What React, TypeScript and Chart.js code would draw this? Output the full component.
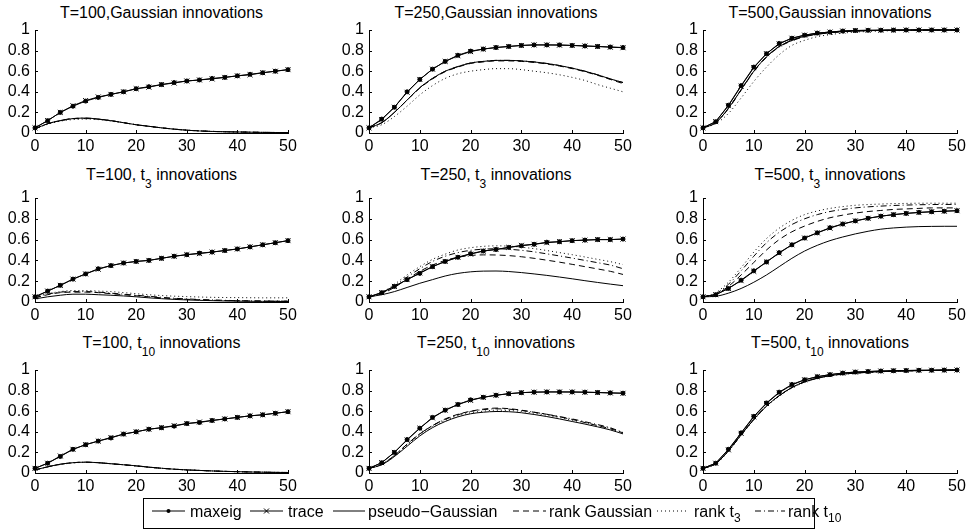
import React, { useEffect, useRef } from "react";
import { Chart, registerables } from "chart.js";
Chart.register(...registerables);

const FONT = "'Liberation Sans', Arial, Helvetica, sans-serif";

// horizon grid (x values)
const horizons = [0, 2.5, 5, 7.5, 10, 12.5, 15, 17.5, 20, 22.5, 25, 27.5, 30, 32.5, 35, 37.5, 40, 42.5, 45, 47.5, 50];
const xTicks = [0, 10, 20, 30, 40, 50];
const xTickLabels = ["0", "10", "20", "30", "40", "50"];
const yTicks = [0, 0.2, 0.4, 0.6, 0.8, 1];
const yTickLabels = ["0", "0.2", "0.4", "0.6", "0.8", "1"];
const seriesNames = ["maxeig", "trace", "pseudo\u2212Gaussian", "rank Gaussian", "rank t3", "rank t10"];

// T=100, Gaussian
const A_maxeig = [0.05, 0.12, 0.2, 0.26, 0.31, 0.345, 0.375, 0.4, 0.43, 0.45, 0.47, 0.49, 0.505, 0.515, 0.53, 0.54, 0.555, 0.57, 0.585, 0.6, 0.615];
const A_trace = [0.05, 0.12, 0.2, 0.265, 0.315, 0.35, 0.375, 0.4, 0.43, 0.445, 0.47, 0.485, 0.505, 0.515, 0.525, 0.54, 0.555, 0.565, 0.585, 0.6, 0.615];
const A_pseudo = [0.04, 0.09, 0.12, 0.14, 0.145, 0.135, 0.12, 0.1, 0.08, 0.065, 0.05, 0.037, 0.027, 0.02, 0.015, 0.012, 0.01, 0.008, 0.006, 0.005, 0.004];
const A_rankG = [0.04, 0.09, 0.12, 0.14, 0.14, 0.135, 0.12, 0.1, 0.08, 0.065, 0.05, 0.038, 0.028, 0.021, 0.016, 0.012, 0.01, 0.008, 0.006, 0.005, 0.004];
const A_rankT3 = [0.04, 0.085, 0.115, 0.13, 0.135, 0.13, 0.115, 0.1, 0.08, 0.065, 0.05, 0.038, 0.028, 0.021, 0.016, 0.012, 0.01, 0.008, 0.006, 0.005, 0.004];
const A_rankT10 = [0.04, 0.09, 0.12, 0.14, 0.145, 0.135, 0.12, 0.1, 0.08, 0.065, 0.05, 0.037, 0.027, 0.02, 0.015, 0.012, 0.01, 0.008, 0.006, 0.005, 0.004];

// T=250, Gaussian
const B_maxeig = [0.05, 0.135, 0.25, 0.4, 0.52, 0.62, 0.695, 0.755, 0.795, 0.815, 0.83, 0.84, 0.85, 0.855, 0.855, 0.855, 0.85, 0.845, 0.84, 0.835, 0.83];
const B_trace = [0.05, 0.13, 0.25, 0.395, 0.52, 0.62, 0.695, 0.75, 0.79, 0.815, 0.83, 0.84, 0.85, 0.855, 0.855, 0.853, 0.85, 0.845, 0.84, 0.833, 0.828];
const B_pseudo = [0.05, 0.1, 0.2, 0.32, 0.44, 0.53, 0.6, 0.645, 0.68, 0.695, 0.705, 0.705, 0.7, 0.69, 0.675, 0.655, 0.63, 0.6, 0.565, 0.525, 0.49];
const B_rankG = [0.05, 0.1, 0.2, 0.32, 0.435, 0.525, 0.595, 0.64, 0.675, 0.69, 0.7, 0.7, 0.695, 0.685, 0.67, 0.65, 0.625, 0.595, 0.56, 0.52, 0.48];
const B_rankT3 = [0.05, 0.08, 0.16, 0.26, 0.37, 0.46, 0.53, 0.575, 0.6, 0.615, 0.625, 0.625, 0.615, 0.6, 0.585, 0.565, 0.54, 0.51, 0.47, 0.435, 0.4];
const B_rankT10 = [0.05, 0.1, 0.2, 0.32, 0.44, 0.53, 0.6, 0.645, 0.68, 0.695, 0.705, 0.705, 0.7, 0.69, 0.675, 0.655, 0.63, 0.6, 0.565, 0.525, 0.49];

// T=500, Gaussian
const C_maxeig = [0.05, 0.11, 0.27, 0.46, 0.64, 0.77, 0.87, 0.92, 0.95, 0.97, 0.98, 0.99, 0.995, 0.997, 0.998, 0.999, 1, 1, 1, 1, 1];
const C_trace = [0.05, 0.11, 0.265, 0.455, 0.635, 0.77, 0.865, 0.92, 0.95, 0.97, 0.98, 0.99, 0.995, 0.997, 0.998, 0.999, 1, 1, 1, 1, 1];
const C_pseudo = [0.05, 0.1, 0.24, 0.42, 0.6, 0.74, 0.84, 0.9, 0.94, 0.96, 0.975, 0.985, 0.99, 0.994, 0.996, 0.998, 0.999, 1, 1, 1, 1];
const C_rankG = [0.05, 0.1, 0.24, 0.42, 0.6, 0.74, 0.84, 0.9, 0.94, 0.96, 0.975, 0.985, 0.99, 0.994, 0.996, 0.998, 0.999, 1, 1, 1, 1];
const C_rankT3 = [0.05, 0.09, 0.19, 0.34, 0.5, 0.64, 0.76, 0.85, 0.9, 0.935, 0.955, 0.97, 0.98, 0.985, 0.99, 0.993, 0.995, 0.997, 0.998, 0.999, 1];
const C_rankT10 = [0.05, 0.1, 0.235, 0.415, 0.595, 0.735, 0.835, 0.895, 0.935, 0.958, 0.973, 0.983, 0.99, 0.994, 0.996, 0.998, 0.999, 1, 1, 1, 1];

// T=100, t3
const D_maxeig = [0.05, 0.105, 0.16, 0.22, 0.27, 0.32, 0.35, 0.375, 0.39, 0.4, 0.42, 0.44, 0.455, 0.47, 0.48, 0.495, 0.51, 0.53, 0.55, 0.57, 0.59];
const D_trace = [0.05, 0.105, 0.16, 0.22, 0.27, 0.315, 0.35, 0.375, 0.39, 0.4, 0.42, 0.44, 0.455, 0.465, 0.48, 0.495, 0.51, 0.53, 0.55, 0.57, 0.59];
const D_pseudo = [0.03, 0.05, 0.065, 0.075, 0.075, 0.07, 0.065, 0.058, 0.05, 0.04, 0.032, 0.025, 0.02, 0.016, 0.013, 0.01, 0.008, 0.007, 0.006, 0.005, 0.005];
const D_rankG = [0.04, 0.07, 0.09, 0.095, 0.095, 0.09, 0.08, 0.07, 0.06, 0.05, 0.04, 0.032, 0.026, 0.021, 0.017, 0.014, 0.012, 0.01, 0.009, 0.008, 0.008];
const D_rankT3 = [0.05, 0.08, 0.1, 0.11, 0.11, 0.105, 0.1, 0.09, 0.08, 0.07, 0.062, 0.056, 0.052, 0.048, 0.045, 0.043, 0.042, 0.041, 0.04, 0.04, 0.04];
const D_rankT10 = [0.04, 0.075, 0.095, 0.1, 0.1, 0.095, 0.085, 0.075, 0.065, 0.055, 0.045, 0.036, 0.03, 0.024, 0.02, 0.016, 0.013, 0.011, 0.01, 0.009, 0.008];

// T=250, t3
const E_maxeig = [0.05, 0.09, 0.15, 0.215, 0.275, 0.34, 0.39, 0.43, 0.465, 0.49, 0.505, 0.525, 0.54, 0.555, 0.575, 0.58, 0.59, 0.595, 0.6, 0.6, 0.605];
const E_trace = [0.05, 0.09, 0.15, 0.215, 0.28, 0.34, 0.39, 0.43, 0.46, 0.49, 0.505, 0.525, 0.545, 0.555, 0.57, 0.58, 0.59, 0.595, 0.6, 0.6, 0.605];
const E_pseudo = [0.05, 0.07, 0.1, 0.14, 0.18, 0.215, 0.25, 0.275, 0.29, 0.297, 0.298, 0.293, 0.283, 0.27, 0.256, 0.24, 0.223, 0.205, 0.188, 0.172, 0.157];
const E_rankG = [0.05, 0.08, 0.14, 0.22, 0.295, 0.355, 0.4, 0.43, 0.447, 0.453, 0.452, 0.446, 0.435, 0.42, 0.402, 0.383, 0.362, 0.34, 0.318, 0.295, 0.265];
const E_rankT3 = [0.05, 0.09, 0.17, 0.26, 0.34, 0.41, 0.46, 0.5, 0.522, 0.535, 0.54, 0.537, 0.527, 0.513, 0.495, 0.475, 0.455, 0.433, 0.41, 0.388, 0.36];
const E_rankT10 = [0.05, 0.085, 0.155, 0.24, 0.32, 0.39, 0.44, 0.475, 0.497, 0.508, 0.512, 0.507, 0.497, 0.482, 0.463, 0.443, 0.422, 0.4, 0.378, 0.355, 0.32];

// T=500, t3
const F_maxeig = [0.05, 0.07, 0.13, 0.21, 0.3, 0.385, 0.475, 0.55, 0.615, 0.665, 0.715, 0.75, 0.78, 0.805, 0.825, 0.84, 0.852, 0.862, 0.868, 0.873, 0.878];
const F_trace = [0.05, 0.07, 0.13, 0.205, 0.295, 0.385, 0.47, 0.55, 0.615, 0.665, 0.71, 0.75, 0.78, 0.805, 0.825, 0.84, 0.852, 0.86, 0.868, 0.873, 0.878];
const F_pseudo = [0.05, 0.055, 0.085, 0.13, 0.19, 0.26, 0.34, 0.42, 0.49, 0.545, 0.59, 0.625, 0.655, 0.68, 0.7, 0.712, 0.72, 0.725, 0.727, 0.728, 0.728];
const F_rankG = [0.05, 0.075, 0.15, 0.26, 0.38, 0.5, 0.6, 0.675, 0.73, 0.775, 0.81, 0.835, 0.855, 0.87, 0.88, 0.89, 0.895, 0.9, 0.905, 0.905, 0.905];
const F_rankT3 = [0.05, 0.09, 0.19, 0.33, 0.48, 0.61, 0.71, 0.785, 0.84, 0.875, 0.9, 0.917, 0.93, 0.937, 0.942, 0.946, 0.948, 0.95, 0.95, 0.95, 0.95];
const F_rankT10 = [0.05, 0.08, 0.17, 0.3, 0.44, 0.57, 0.67, 0.745, 0.8, 0.84, 0.87, 0.89, 0.905, 0.915, 0.922, 0.928, 0.932, 0.935, 0.937, 0.938, 0.938];

// T=100, t10
const G_maxeig = [0.045, 0.095, 0.16, 0.23, 0.275, 0.31, 0.34, 0.378, 0.4, 0.425, 0.44, 0.455, 0.48, 0.49, 0.51, 0.525, 0.54, 0.555, 0.565, 0.58, 0.595];
const G_trace = [0.045, 0.095, 0.165, 0.23, 0.275, 0.31, 0.345, 0.378, 0.4, 0.425, 0.44, 0.46, 0.48, 0.495, 0.51, 0.525, 0.54, 0.555, 0.565, 0.58, 0.595];
const G_pseudo = [0.03, 0.06, 0.085, 0.1, 0.105, 0.1, 0.09, 0.08, 0.07, 0.057, 0.046, 0.037, 0.03, 0.025, 0.02, 0.016, 0.013, 0.01, 0.008, 0.006, 0.005];
const G_rankG = [0.03, 0.06, 0.085, 0.1, 0.105, 0.1, 0.09, 0.08, 0.068, 0.056, 0.046, 0.037, 0.03, 0.025, 0.02, 0.016, 0.013, 0.01, 0.008, 0.006, 0.005];
const G_rankT3 = [0.03, 0.058, 0.082, 0.098, 0.103, 0.1, 0.09, 0.08, 0.068, 0.056, 0.046, 0.037, 0.03, 0.025, 0.02, 0.016, 0.013, 0.01, 0.008, 0.006, 0.005];
const G_rankT10 = [0.03, 0.06, 0.085, 0.1, 0.105, 0.1, 0.09, 0.08, 0.07, 0.057, 0.046, 0.037, 0.03, 0.025, 0.02, 0.016, 0.013, 0.01, 0.008, 0.006, 0.005];

// T=250, t10
const H_maxeig = [0.045, 0.1, 0.2, 0.325, 0.435, 0.54, 0.61, 0.665, 0.71, 0.735, 0.755, 0.77, 0.78, 0.785, 0.787, 0.787, 0.787, 0.785, 0.782, 0.778, 0.775];
const H_trace = [0.045, 0.1, 0.2, 0.32, 0.435, 0.535, 0.61, 0.665, 0.705, 0.735, 0.755, 0.77, 0.78, 0.785, 0.787, 0.787, 0.786, 0.784, 0.781, 0.777, 0.774];
const H_pseudo = [0.045, 0.08, 0.16, 0.26, 0.36, 0.44, 0.5, 0.545, 0.575, 0.59, 0.597, 0.595, 0.585, 0.568, 0.548, 0.525, 0.5, 0.475, 0.448, 0.418, 0.38];
const H_rankG = [0.045, 0.085, 0.17, 0.28, 0.38, 0.46, 0.525, 0.57, 0.6, 0.62, 0.63, 0.625, 0.61, 0.59, 0.57, 0.545, 0.52, 0.49, 0.46, 0.43, 0.39];
const H_rankT3 = [0.045, 0.08, 0.16, 0.27, 0.37, 0.45, 0.51, 0.555, 0.585, 0.6, 0.61, 0.607, 0.597, 0.58, 0.56, 0.538, 0.513, 0.488, 0.462, 0.432, 0.395];
const H_rankT10 = [0.045, 0.085, 0.17, 0.28, 0.38, 0.46, 0.52, 0.565, 0.598, 0.615, 0.623, 0.62, 0.607, 0.59, 0.57, 0.548, 0.525, 0.498, 0.47, 0.44, 0.39];

// T=500, t10
const I_maxeig = [0.045, 0.095, 0.23, 0.39, 0.55, 0.68, 0.785, 0.86, 0.905, 0.935, 0.955, 0.97, 0.98, 0.985, 0.99, 0.993, 0.995, 0.997, 0.998, 0.999, 1];
const I_trace = [0.045, 0.095, 0.225, 0.385, 0.545, 0.675, 0.78, 0.855, 0.905, 0.935, 0.955, 0.97, 0.98, 0.985, 0.99, 0.993, 0.995, 0.997, 0.998, 0.999, 1];
const I_pseudo = [0.045, 0.09, 0.215, 0.37, 0.52, 0.65, 0.75, 0.83, 0.885, 0.92, 0.945, 0.96, 0.97, 0.978, 0.984, 0.988, 0.991, 0.994, 0.996, 0.998, 0.999];
const I_rankG = [0.045, 0.09, 0.215, 0.37, 0.52, 0.65, 0.75, 0.83, 0.885, 0.92, 0.945, 0.96, 0.97, 0.978, 0.984, 0.988, 0.991, 0.994, 0.996, 0.998, 0.999];
const I_rankT3 = [0.045, 0.088, 0.21, 0.365, 0.515, 0.645, 0.745, 0.825, 0.88, 0.918, 0.943, 0.958, 0.969, 0.977, 0.983, 0.988, 0.991, 0.994, 0.996, 0.998, 0.999];
const I_rankT10 = [0.045, 0.09, 0.215, 0.37, 0.52, 0.65, 0.75, 0.83, 0.885, 0.92, 0.945, 0.96, 0.97, 0.978, 0.984, 0.988, 0.991, 0.994, 0.996, 0.998, 0.999];

const panelTitles = [
  ["T=100,Gaussian innovations", "", ""],
  ["T=250,Gaussian innovations", "", ""],
  ["T=500,Gaussian innovations", "", ""],
  ["T=100, t", "3", " innovations"],
  ["T=250, t", "3", " innovations"],
  ["T=500, t", "3", " innovations"],
  ["T=100, t", "10", " innovations"],
  ["T=250, t", "10", " innovations"],
  ["T=500, t", "10", " innovations"],
];
const panelData = [
  [A_maxeig, A_trace, A_pseudo, A_rankG, A_rankT3, A_rankT10],
  [B_maxeig, B_trace, B_pseudo, B_rankG, B_rankT3, B_rankT10],
  [C_maxeig, C_trace, C_pseudo, C_rankG, C_rankT3, C_rankT10],
  [D_maxeig, D_trace, D_pseudo, D_rankG, D_rankT3, D_rankT10],
  [E_maxeig, E_trace, E_pseudo, E_rankG, E_rankT3, E_rankT10],
  [F_maxeig, F_trace, F_pseudo, F_rankG, F_rankT3, F_rankT10],
  [G_maxeig, G_trace, G_pseudo, G_rankG, G_rankT3, G_rankT10],
  [H_maxeig, H_trace, H_pseudo, H_rankG, H_rankT3, H_rankT10],
  [I_maxeig, I_trace, I_pseudo, I_rankG, I_rankT3, I_rankT10],
];

// layout (plot-area edges in page pixels)
const PL = [35, 369, 703];
const PR = [288, 623, 957];
const PT = [30, 198, 370];
const PB = [133, 302, 473];
const TITLE_CY = [12, 174, 342];
const AXW = 35;
const AXH = 26;
const PADT = 10;
const PADR = 14;

const DASHES: number[][] = [[], [], [], [6, 4], [1, 3], [6, 3, 1, 3]];

const inwardTicks = {
  id: "inwardTicks",
  afterDraw(chart: any) {
    const { ctx, chartArea, scales } = chart;
    const { left, bottom } = chartArea;
    ctx.save();
    ctx.strokeStyle = "#000";
    ctx.lineWidth = 1;
    ctx.beginPath();
    scales.x.ticks.forEach((t: any) => {
      const px = Math.round(scales.x.getPixelForValue(t.value)) + 0.5;
      ctx.moveTo(px, bottom);
      ctx.lineTo(px, bottom - 3);
    });
    scales.y.ticks.forEach((t: any) => {
      const py = Math.round(scales.y.getPixelForValue(t.value)) + 0.5;
      ctx.moveTo(left, py);
      ctx.lineTo(left + 3, py);
    });
    ctx.stroke();
    ctx.restore();
  },
};

function Panel({ idx }: { idx: number }) {
  const ref = useRef<HTMLCanvasElement>(null);
  const r = Math.floor(idx / 3);
  const c = idx % 3;
  const w = AXW + (PR[c] - PL[c]) + PADR;
  const h = PADT + (PB[r] - PT[r]) + AXH;
  useEffect(() => {
    const series = panelData[idx];
    const datasets = series.map((vals, si) => ({
      label: seriesNames[si],
      data: vals.map((v, i) => ({ x: horizons[i], y: v })),
      borderColor: "#000",
      backgroundColor: "#000",
      borderWidth: 1,
      borderDash: DASHES[si],
      tension: si < 2 ? 0 : 0.35,
      cubicInterpolationMode: si < 2 ? "default" : "monotone",
      pointRadius: si === 0 ? 2 : si === 1 ? 3.5 : 0,
      pointStyle: si === 0 ? "circle" : "crossRot",
      pointBorderWidth: 1,
      pointBorderColor: "#000",
      pointBackgroundColor: "#000",
      clip: false,
      fill: false,
    }));
    const tickFont = { family: FONT, size: 16 };
    const chart = new Chart(ref.current as HTMLCanvasElement, {
      type: "line",
      data: { datasets } as any,
      plugins: [inwardTicks],
      options: {
        responsive: false,
        animation: false,
        devicePixelRatio: 1,
        layout: { padding: { top: PADT, right: PADR, left: 0, bottom: 0 } },
        plugins: { legend: { display: false }, tooltip: { enabled: false }, title: { display: false } },
        scales: {
          x: {
            type: "linear",
            min: 0,
            max: 50,
            afterBuildTicks: (s: any) => {
              s.ticks = xTicks.map((v) => ({ value: v }));
            },
            ticks: {
              color: "#000",
              font: tickFont,
              padding: 4,
              maxRotation: 0,
              autoSkip: false,
              callback: (_v: any, i: number) => xTickLabels[i],
            },
            grid: { display: true, drawOnChartArea: false, drawTicks: false },
            border: { display: true, color: "#000", width: 1 },
            afterFit: (s: any) => {
              s.height = AXH;
              s.paddingLeft = 0;
              s.paddingRight = 0;
            },
          },
          y: {
            type: "linear",
            min: 0,
            max: 1,
            afterBuildTicks: (s: any) => {
              s.ticks = yTicks.map((v) => ({ value: v }));
            },
            ticks: {
              color: "#000",
              font: tickFont,
              padding: 5,
              autoSkip: false,
              callback: (_v: any, i: number) => yTickLabels[i],
            },
            grid: { display: true, drawOnChartArea: false, drawTicks: false },
            border: { display: true, color: "#000", width: 1 },
            afterFit: (s: any) => {
              s.width = AXW;
              s.paddingTop = 0;
              s.paddingBottom = 0;
            },
          },
        },
      } as any,
    });
    return () => chart.destroy();
  }, [idx]);
  const t = panelTitles[idx];
  return (
    <>
      <div
        style={{
          position: "absolute",
          left: PL[c] - 40,
          width: PR[c] - PL[c] + 80,
          top: TITLE_CY[r] - 9.3,
          textAlign: "center",
          fontFamily: FONT,
          fontSize: 16,
          lineHeight: "19px",
          whiteSpace: "nowrap",
          color: "#000",
        }}
      >
        {t[0]}
        {t[1] && <span style={{ fontSize: 12, position: "relative", top: 8 }}>{t[1]}</span>}
        {t[2]}
      </div>
      <canvas
        ref={ref}
        width={w}
        height={h}
        style={{ position: "absolute", left: PL[c] - AXW, top: PT[r] - PADT, width: w, height: h }}
      />
    </>
  );
}

// legend item geometry (relative to legend box): sample start, sample end, text x
const LEG_SAMPLES = [
  [9, 42, 47],
  [107, 140, 145],
  [190, 222, 225],
  [370, 403, 406],
  [514, 545, 551],
  [612, 642, 645],
];

function Legend() {
  const ly = 13;
  return (
    <svg
      width={672}
      height={31}
      style={{ position: "absolute", left: 143, top: 498, overflow: "visible" }}
      fontFamily={FONT}
      fontSize={16}
    >
      <rect x={0.5} y={0.5} width={671} height={30} fill="#fff" stroke="#000" strokeWidth={1} />
      {LEG_SAMPLES.map(([x1, x2, tx], i) => {
        const mid = (x1 + x2) / 2;
        const name = seriesNames[i];
        const isSub = i >= 4;
        return (
          <g key={i}>
            <line
              x1={x1}
              y1={ly}
              x2={x2}
              y2={ly}
              stroke="#000"
              strokeWidth={1}
              strokeDasharray={DASHES[i].length ? DASHES[i].join(",") : undefined}
            />
            {i === 0 && <circle cx={mid} cy={ly} r={2} fill="#000" />}
            {i === 1 && (
              <path
                d={`M${mid - 2.5},${ly - 2.5}L${mid + 2.5},${ly + 2.5}M${mid - 2.5},${ly + 2.5}L${mid + 2.5},${ly - 2.5}`}
                stroke="#000"
                strokeWidth={1}
              />
            )}
            <text x={tx} y={19} fill="#000">
              {isSub ? "rank t" : name}
              {isSub && (
                <tspan fontSize={12} dy={5}>
                  {i === 4 ? "3" : "10"}
                </tspan>
              )}
            </text>
          </g>
        );
      })}
    </svg>
  );
}

export default function App() {
  useEffect(() => {
    document.body.style.margin = "0";
    document.body.style.background = "#fff";
  }, []);
  return (
    <div style={{ position: "absolute", left: 0, top: 0, width: 969, height: 531, background: "#fff", overflow: "hidden" }}>
      {panelData.map((_, i) => (
        <Panel key={i} idx={i} />
      ))}
      <Legend />
    </div>
  );
}
